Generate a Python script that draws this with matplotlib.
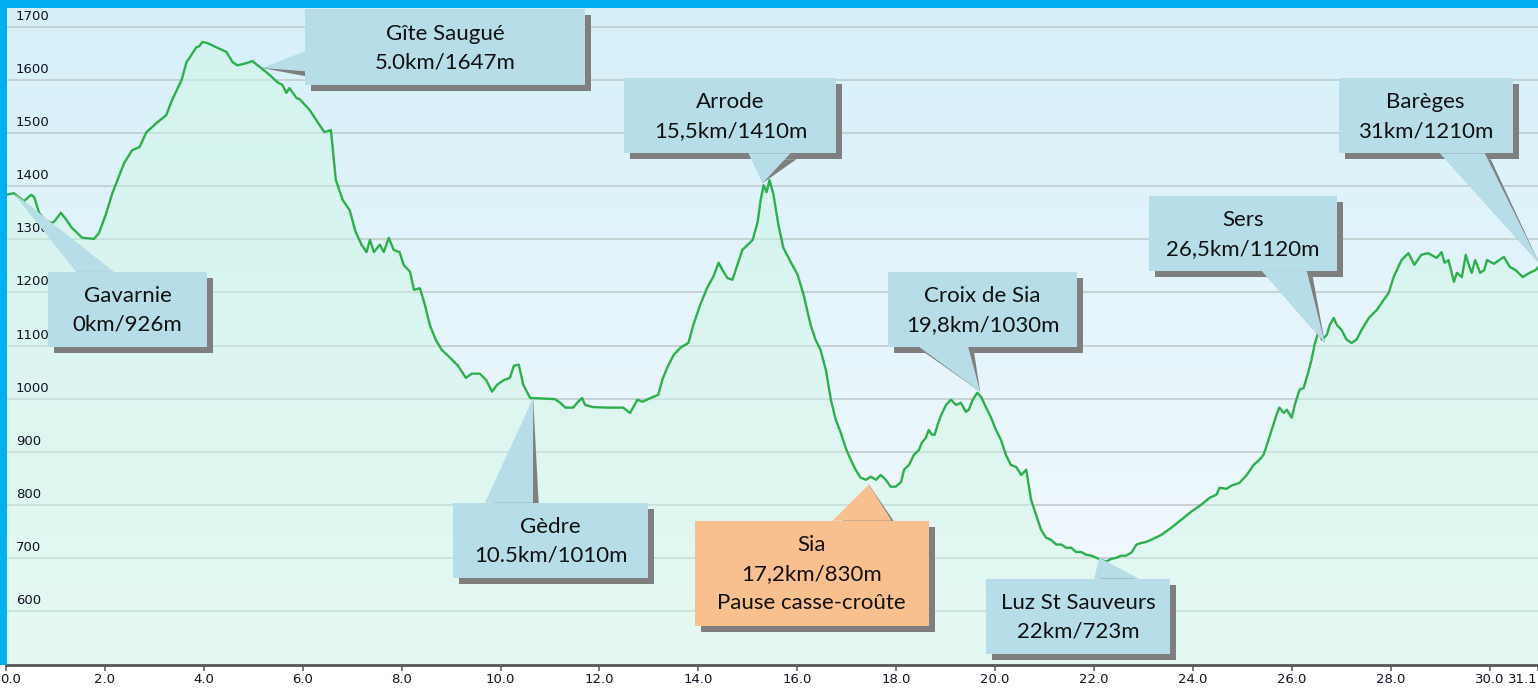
import numpy as np
import matplotlib.pyplot as plt
from matplotlib.patches import Polygon, Rectangle
from matplotlib.transforms import IdentityTransform, ScaledTranslation

# profil : distance (km) / altitude (m)
km = [0.0, 0.16, 0.36, 0.51, 0.57, 0.67, 0.77, 0.91, 0.97, 1.11, 1.22, 1.32, 1.44, 1.54,
      1.78, 1.88, 2.03, 2.15, 2.39, 2.55, 2.70, 2.84, 2.96, 3.04, 3.24, 3.36, 3.55, 3.65,
      3.71, 3.85, 3.91, 3.97, 4.07, 4.32, 4.46, 4.58, 4.68, 4.86, 4.98, 5.13, 5.33, 5.49,
      5.59, 5.67, 5.73, 5.88, 5.94, 6.14, 6.30, 6.44, 6.57, 6.67, 6.81, 6.95, 7.07, 7.19,
      7.29, 7.36, 7.44, 7.56, 7.64, 7.74, 7.84, 7.96, 8.04, 8.17, 8.25, 8.37, 8.47, 8.57,
      8.69, 8.81, 8.98, 9.14, 9.30, 9.42, 9.58, 9.71, 9.83, 9.93, 10.07, 10.19, 10.27,
      10.37, 10.46, 10.60, 10.66, 11.10, 11.21, 11.31, 11.47, 11.55, 11.65, 11.71, 11.87,
      12.16, 12.48, 12.62, 12.77, 12.87, 13.03, 13.19, 13.27, 13.37, 13.50, 13.64, 13.80,
      13.90, 14.04, 14.18, 14.31, 14.41, 14.49, 14.59, 14.69, 14.79, 14.89, 15.00, 15.10,
      15.20, 15.26, 15.32, 15.38, 15.44, 15.52, 15.62, 15.72, 15.87, 16.01, 16.13, 16.27,
      16.37, 16.47, 16.58, 16.68, 16.78, 16.88, 16.98, 17.08, 17.18, 17.28, 17.39, 17.49,
      17.59, 17.69, 17.79, 17.89, 17.99, 18.10, 18.16, 18.26, 18.36, 18.46, 18.52, 18.60,
      18.66, 18.72, 18.78, 18.84, 18.91, 19.01, 19.11, 19.21, 19.31, 19.41, 19.47, 19.55,
      19.64, 19.72, 19.82, 19.92, 20.02, 20.12, 20.22, 20.32, 20.43, 20.53, 20.63, 20.73,
      20.83, 20.93, 21.03, 21.13, 21.24, 21.34, 21.44, 21.54, 21.64, 21.74, 21.84, 21.95,
      22.05, 22.15, 22.25, 22.35, 22.45, 22.55, 22.65, 22.76, 22.86, 22.96, 23.06, 23.16,
      23.36, 23.57, 23.77, 23.97, 24.17, 24.34, 24.48, 24.54, 24.68, 24.78, 24.94, 25.09,
      25.23, 25.35, 25.43, 25.53, 25.63, 25.69, 25.75, 25.84, 25.90, 26.00, 26.06, 26.16,
      26.24, 26.32, 26.40, 26.46, 26.55, 26.61, 26.71, 26.77, 26.85, 26.91, 27.01, 27.11,
      27.21, 27.31, 27.41, 27.56, 27.72, 27.86, 27.96, 28.06, 28.22, 28.36, 28.48, 28.62,
      28.76, 28.93, 29.03, 29.09, 29.17, 29.28, 29.34, 29.44, 29.52, 29.58, 29.64, 29.71,
      29.81, 29.89, 29.95, 30.09, 30.29, 30.41, 30.53, 30.67, 30.81, 30.93, 31.03]
alt = [1384, 1387, 1372, 1384, 1380, 1350, 1337, 1331, 1333, 1350, 1337, 1323, 1312, 1303,
       1301, 1312, 1350, 1387, 1444, 1468, 1474, 1502, 1512, 1519, 1534, 1563, 1600, 1634,
       1642, 1662, 1664, 1672, 1670, 1659, 1653, 1634, 1628, 1632, 1636, 1625, 1610, 1596,
       1591, 1576, 1585, 1566, 1564, 1544, 1521, 1502, 1506, 1412, 1374, 1355, 1314, 1290,
       1276, 1299, 1276, 1290, 1276, 1303, 1280, 1276, 1252, 1239, 1205, 1208, 1177, 1139,
       1111, 1092, 1077, 1062, 1039, 1047, 1047, 1035, 1013, 1026, 1035, 1039, 1062,
       1064, 1026, 1001, 1001, 999, 992, 983, 983, 992, 1001, 988, 984,
       983, 983, 973, 998, 994, 1001, 1007, 1035, 1058, 1082, 1096, 1105,
       1139, 1177, 1209, 1231, 1256, 1242, 1227, 1224, 1252, 1280, 1290, 1299,
       1333, 1374, 1402, 1389, 1412, 1384, 1327, 1284, 1257, 1233, 1195, 1139,
       1111, 1092, 1054, 998, 960, 936, 907, 885, 866, 851, 847, 853,
       847, 856, 847, 834, 834, 843, 866, 875, 894, 903, 917, 926,
       941, 932, 932, 951, 969, 988, 998, 988, 992, 975, 979, 998,
       1011, 1003, 983, 964, 941, 922, 894, 875, 871, 856, 866, 809,
       781, 753, 738, 734, 725, 725, 719, 719, 711, 711, 706, 704,
       700, 696, 693, 698, 700, 704, 704, 710, 725, 728, 730, 734,
       743, 757, 772, 787, 800, 813, 819, 832, 830, 836, 841, 856,
       875, 885, 894, 922, 951, 969, 983, 973, 979, 964, 988, 1017,
       1020, 1045, 1073, 1101, 1129, 1111, 1120, 1139, 1152, 1139, 1129, 1111,
       1105, 1111, 1129, 1152, 1167, 1186, 1199, 1229, 1261, 1274, 1252, 1271,
       1274, 1265, 1276, 1256, 1261, 1220, 1237, 1229, 1271, 1252, 1237, 1261,
       1237, 1242, 1261, 1254, 1267, 1248, 1242, 1229, 1237, 1242, 1252]

# etapes : texte et point vise sur le profil
etapes = ["Gavarnie\n0km/926m", "Gîte Saugué\n5.0km/1647m", "Arrode\n15,5km/1410m",
          "Gèdre\n10.5km/1010m", "Sia\n17,2km/830m\nPause casse-croûte",
          "Croix de Sia\n19,8km/1030m", "Luz St Sauveurs\n22km/723m",
          "Sers\n26,5km/1120m", "Barèges\n31km/1210m"]
etape_km = [0.16, 5.17, 15.30, 10.66, 17.45, 19.70, 22.11, 26.67, 31.0]
etape_alt = [1387, 1623, 1406, 1001, 838, 1013, 700, 1105, 1256]

x_ticks = [0.0, 2.0, 4.0, 6.0, 8.0, 10.0, 12.0, 14.0, 16.0, 18.0, 20.0, 22.0, 24.0,
           26.0, 28.0, 30.0, 30.98]
x_labels = ["0.0", "2.0", "4.0", "6.0", "8.0", "10.0", "12.0", "14.0", "16.0", "18.0",
            "20.0", "22.0", "24.0", "26.0", "28.0", "30.0", "31.1"]
y_ticks = [600, 700, 800, 900, 1000, 1100, 1200, 1300, 1400, 1500, 1600, 1700]

# mise en page des bulles : centre (km, m), taille px, cote de la pointe, base de la pointe
bulle_xy = [(2.46, 1168), (8.88, 1662), (14.65, 1533), (11.01, 733), (16.29, 671),
            (19.75, 1168), (21.68, 590), (25.01, 1311), (28.71, 1533)]
bulle_wh = [(159, 75), (280, 76), (212, 75), (195, 75), (234, 105),
            (189, 75), (184, 75), (188, 75), (174, 75)]
bulle_cote = ['top', 'left', 'bottom', 'top', 'top', 'bottom', 'top', 'bottom', 'bottom']
bulle_base = [(28, 66), (42, 62), (124, 166), (32, 80), (138, 197),
              (31, 80), (108, 153), (113, 158), (101, 146)]
bulle_fc = ['#b7dde8'] * 4 + ['#f8bf8f'] + ['#b7dde8'] * 4

W, H = 1538, 690
fig = plt.figure(figsize=(W / 100, H / 100), dpi=100, facecolor='white')
ax = fig.add_axes([6 / W, 25 / H, (W - 6) / W, 657 / H])
ax.set_xlim(0, 30.98)
ax.set_ylim(498, 1736)

# fond degrade
c_top = np.array([0xd6, 0xf0, 0xf9]) / 255
c_bot = np.array([0xf5, 0xfa, 0xfd]) / 255
t = np.linspace(0, 1, 256)[:, None, None]
grad = c_top * (1 - t) + c_bot * t
ax.imshow(grad, extent=[0, 30.98, 498, 1736], aspect='auto', zorder=0, interpolation='bilinear')

for v in y_ticks:
    ax.axhline(v, color='#c3cfd1', lw=1.3, zorder=1)
    ax.annotate(str(v), xy=(0, v), xycoords=('axes fraction', 'data'), xytext=(10, 4),
                textcoords='offset pixels', fontsize=9.5, color='#111122', va='bottom', ha='left',
                zorder=4)

ax.fill_between(km, alt, 498, color='#d0f7e4', alpha=0.45, lw=0, zorder=2)
ax.plot(km, alt, color='#2eaf4d', lw=1.7, zorder=3)

ax.set_xticks(x_ticks)
ax.set_xticklabels(x_labels)
ax.set_yticks([])
for s in ['top', 'right', 'left']:
    ax.spines[s].set_visible(False)
ax.spines['bottom'].set_color('#555555')
ax.spines['bottom'].set_linewidth(2)
ax.tick_params(axis='x', direction='out', length=4, width=1.2, color='#666666',
               labelsize=9.5, labelcolor='#111122', pad=2)
labs = ax.get_xticklabels()
labs[0].set_ha('left')
labs[0].set_transform(labs[0].get_transform() + ScaledTranslation(-6 / 100, 0, fig.dpi_scale_trans))
labs[-1].set_ha('right')


def bulle(texte, tip, centre, wh, cote, base, fc):
    idt = IdentityTransform()
    tx, ty = ax.transData.transform(tip)
    cx, cy = ax.transData.transform(centre)
    w, h = wh
    x0, y0 = cx - w / 2, cy - h / 2
    x1, y1 = x0 + w, y0 + h
    b0, b1 = base
    if cote == 'top':
        pts = [(x0 + b0, y1), (x0 + b1, y1)]
    elif cote == 'bottom':
        pts = [(x0 + b0, y0), (x0 + b1, y0)]
    else:
        pts = [(x0, y1 - b0), (x0, y1 - b1)]
    dx, dy = 6, -6
    ombre = '#7f7f7f'
    ax.add_patch(Rectangle((x0 + dx, y0 + dy), w, h, fc=ombre, ec='none', transform=idt, zorder=5))
    ax.add_patch(Polygon([(tx, ty)] + [(px + dx, py + dy) for px, py in pts], closed=True,
                         fc=ombre, ec='none', transform=idt, zorder=5))
    ax.add_patch(Rectangle((x0, y0), w, h, fc=fc, ec='none', transform=idt, zorder=6))
    ax.add_patch(Polygon([(tx, ty)] + pts, closed=True, fc=fc, ec='none', transform=idt, zorder=6))
    ax.text(cx, cy - 1, texte, transform=idt, ha='center', va='center', fontsize=16,
            family=['Lato', 'DejaVu Sans'], color='#111111', linespacing=1.55, zorder=7)


for i in range(len(etapes)):
    bulle(etapes[i], (etape_km[i], etape_alt[i]), bulle_xy[i], bulle_wh[i],
          bulle_cote[i], bulle_base[i], bulle_fc[i])

# cadre bleu
bleu = '#00b0f0'
fig.add_artist(Rectangle((0, 1 - 8 / H), 1, 8 / H, transform=fig.transFigure, fc=bleu, ec='none', zorder=10))
fig.add_artist(Rectangle((0, 25 / H), 7 / W, 1 - 25 / H, transform=fig.transFigure, fc=bleu, ec='none', zorder=10))

fig.savefig('out.png', dpi=100)
